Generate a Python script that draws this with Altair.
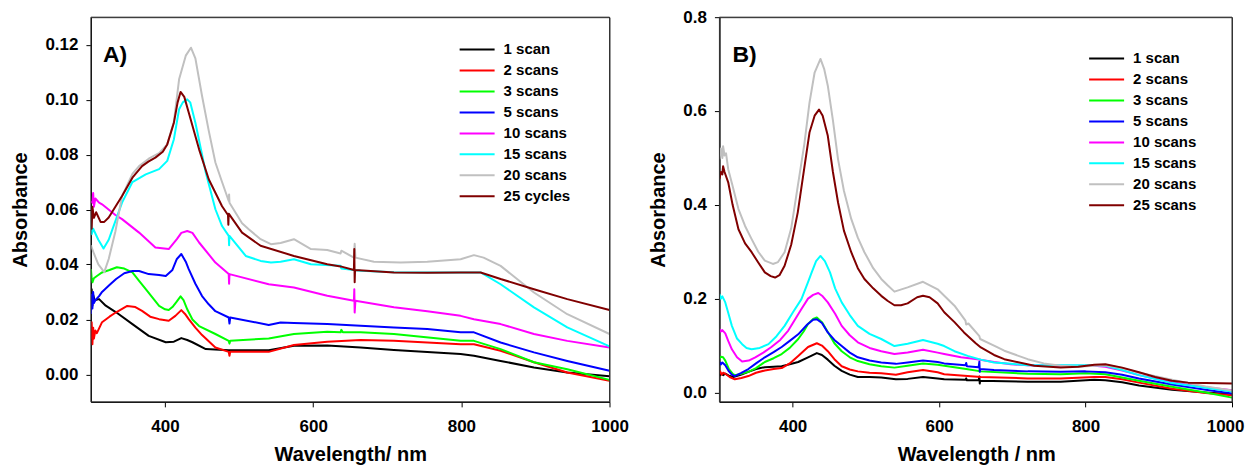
import altair as alt
import pandas as pd

FONT = "Liberation Sans"

# ---------------- legend labels & colours ----------------
labels_A = ["1 scan", "2 scans", "3 scans", "5 scans", "10 scans", "15 scans", "20 scans", "25 cycles"]
labels_B = ["1 scan", "2 scans", "3 scans", "5 scans", "10 scans", "15 scans", "20 scans", "25 scans"]
colors = ["#000000", "#ff0000", "#00ff00", "#0000ff", "#ff00ff", "#00ffff", "#c0c0c0", "#800000"]

# ---------------- panel A ----------------
A1_wl = [300, 301, 302, 303, 305, 311, 320, 334, 356, 378, 401, 412, 422, 430, 437, 455, 486, 540, 574, 619, 664, 709, 799, 817, 853, 898, 943, 1000]
A1_ab = [0.027, 0.031, 0.025, 0.029, 0.027, 0.0274, 0.025, 0.0226, 0.0183, 0.014, 0.0117, 0.0119, 0.0132, 0.0125, 0.0117, 0.0092, 0.0088, 0.0088, 0.0104, 0.0105, 0.0098, 0.0089, 0.0074, 0.0068, 0.0049, 0.0025, 0.0007, -0.0007]

A2_wl = [300, 301, 302, 303, 304, 306, 308, 315, 325, 334, 349, 360, 369, 380, 392, 405, 414, 422, 427, 432, 441, 450, 468, 486, 487, 488, 540, 574, 619, 664, 709, 799, 817, 853, 898, 943, 1000]
A2_ab = [0.013, 0.019, 0.011, 0.017, 0.013, 0.016, 0.015, 0.019, 0.021, 0.0226, 0.0249, 0.0245, 0.0231, 0.021, 0.0201, 0.0195, 0.0213, 0.0234, 0.022, 0.0201, 0.017, 0.0143, 0.0098, 0.0082, 0.0068, 0.0082, 0.0082, 0.0107, 0.0119, 0.0125, 0.0122, 0.011, 0.011, 0.0086, 0.0044, 0.0007, -0.0023]

A3_wl = [300, 301, 302, 304, 309, 315, 325, 335, 345, 356, 365, 374, 392, 400, 405, 410, 415, 421, 425, 430, 437, 446, 468, 486, 487, 488, 540, 574, 619, 637, 638, 640, 664, 709, 799, 817, 853, 898, 943, 1000]
A3_ab = [0.0383, 0.035, 0.0335, 0.035, 0.036, 0.0371, 0.038, 0.039, 0.0385, 0.0371, 0.034, 0.031, 0.0249, 0.0237, 0.0234, 0.0245, 0.0262, 0.0284, 0.027, 0.0237, 0.020, 0.0176, 0.0147, 0.0122, 0.0112, 0.0122, 0.0131, 0.0147, 0.0155, 0.0153, 0.0162, 0.0153, 0.0153, 0.0147, 0.0122, 0.0122, 0.0092, 0.0044, 0.0019, -0.002]

A5_wl = [300, 301, 302, 303, 304, 306, 311, 315, 325, 334, 345, 356, 365, 378, 392, 401, 410, 416, 422, 428, 432, 441, 450, 459, 468, 486, 487, 488, 540, 556, 574, 619, 709, 754, 799, 817, 853, 898, 943, 1000]
A5_ab = [0.022, 0.029, 0.024, 0.030, 0.026, 0.027, 0.0285, 0.030, 0.0325, 0.0347, 0.0368, 0.0376, 0.0376, 0.0365, 0.0362, 0.0358, 0.038, 0.042, 0.0438, 0.041, 0.0383, 0.033, 0.0285, 0.0255, 0.023, 0.0207, 0.0185, 0.0207, 0.018, 0.0189, 0.0187, 0.0183, 0.0171, 0.0165, 0.0153, 0.0153, 0.0116, 0.008, 0.0049, 0.0013]

A10_wl = [300, 302, 303, 304, 306, 311, 315, 333, 342, 365, 387, 405, 416, 422, 430, 437, 446, 468, 486, 486.5, 487, 540, 574, 619, 655, 655.5, 656, 657, 709, 754, 799, 817, 853, 898, 943, 1000]
A10_ab = [0.063, 0.0625, 0.066, 0.061, 0.064, 0.0625, 0.0619, 0.058, 0.0565, 0.0516, 0.0462, 0.0456, 0.0492, 0.0515, 0.0522, 0.0515, 0.048, 0.0407, 0.0365, 0.033, 0.0365, 0.0328, 0.0316, 0.0286, 0.0268, 0.031, 0.0225, 0.0268, 0.0244, 0.023, 0.0213, 0.0201, 0.0183, 0.0147, 0.0122, 0.0098]

A15_wl = [300, 301, 303, 310, 317, 324, 329, 342, 356, 374, 392, 403, 412, 419, 424, 430, 434, 441, 455, 468, 477, 486, 486.5, 487, 509, 529, 543, 556, 574, 597, 637, 638, 664, 709, 754, 799, 826, 853, 898, 943, 1000]
A15_ab = [0.056, 0.051, 0.053, 0.049, 0.0458, 0.049, 0.0528, 0.0625, 0.070, 0.0728, 0.0747, 0.0777, 0.0856, 0.0965, 0.099, 0.1001, 0.099, 0.0916, 0.0735, 0.0601, 0.054, 0.0504, 0.047, 0.0504, 0.0431, 0.0413, 0.0407, 0.041, 0.0419, 0.0401, 0.0395, 0.0385, 0.0377, 0.0372, 0.0371, 0.0371, 0.0371, 0.0328, 0.0244, 0.0171, 0.0102]

A20_wl = [300, 304, 310, 318, 324, 333, 342, 356, 365, 378, 392, 403, 412, 419, 428, 435, 441, 450, 459, 468, 477, 486, 486.5, 487, 504, 513, 529, 543, 556, 574, 597, 619, 637, 638, 655, 656, 657, 682, 718, 754, 799, 817, 830, 853, 898, 943, 1000]
A20_ab = [0.047, 0.044, 0.040, 0.0372, 0.042, 0.052, 0.0649, 0.073, 0.0758, 0.0785, 0.0805, 0.0837, 0.092, 0.1074, 0.116, 0.1189, 0.115, 0.1013, 0.0887, 0.0771, 0.070, 0.0631, 0.0655, 0.0625, 0.055, 0.0528, 0.0492, 0.0474, 0.0478, 0.0492, 0.0456, 0.0453, 0.044, 0.045, 0.0425, 0.0475, 0.0425, 0.041, 0.0407, 0.041, 0.0419, 0.0434, 0.0425, 0.0395, 0.0298, 0.0219, 0.0147]

A25_wl = [300, 301, 302, 304, 307, 313, 318, 324, 333, 342, 356, 369, 378, 387, 397, 403, 412, 417, 421, 426, 432, 446, 459, 477, 485, 485.5, 486, 504, 529, 574, 619, 637, 655, 655.5, 656, 656.5, 709, 754, 799, 826, 853, 898, 943, 1000]
A25_ab = [0.060, 0.053, 0.061, 0.057, 0.059, 0.0555, 0.0555, 0.0571, 0.061, 0.0649, 0.0716, 0.0758, 0.0775, 0.0789, 0.081, 0.0837, 0.0916, 0.099, 0.1028, 0.101, 0.0953, 0.0819, 0.071, 0.0612, 0.058, 0.0545, 0.0585, 0.0516, 0.0468, 0.0431, 0.0401, 0.0393, 0.038, 0.0456, 0.0335, 0.038, 0.0371, 0.037, 0.0371, 0.0371, 0.0347, 0.031, 0.0274, 0.0234]

# ---------------- panel B ----------------
B1_wl = [300, 301, 303, 305, 308, 313, 319, 330, 339.5, 350, 362, 374, 385, 396, 407.6, 421, 433, 440, 448, 457, 467, 478, 489, 505, 521, 541, 557, 578, 598, 607, 636, 637, 638, 654, 655, 655.5, 656, 721, 766, 812, 827, 850, 873, 918, 964, 1000]
B1_ab = [0.035, 0.038, 0.04, 0.037, 0.04, 0.036, 0.033, 0.038, 0.044, 0.05, 0.054, 0.055, 0.056, 0.06, 0.065, 0.075, 0.084, 0.08, 0.07, 0.057, 0.046, 0.038, 0.033, 0.033, 0.032, 0.028, 0.029, 0.033, 0.03, 0.028, 0.027, 0.03, 0.026, 0.026, 0.034, 0.019, 0.025, 0.023, 0.023, 0.027, 0.026, 0.022, 0.015, 0.006, 0.0, -0.004]

B2_wl = [300, 301, 303, 305, 308, 314, 321, 330, 339.5, 350, 362, 374, 385, 396, 407.6, 421, 433, 440, 448, 457, 467, 478, 489, 505, 521, 541, 557, 578, 598, 607, 657, 721, 766, 812, 827, 850, 873, 918, 964, 1000]
B2_ab = [0.04, 0.045, 0.038, 0.042, 0.04, 0.033, 0.028, 0.031, 0.035, 0.042, 0.047, 0.05, 0.052, 0.062, 0.078, 0.097, 0.105, 0.1, 0.088, 0.071, 0.056, 0.049, 0.045, 0.042, 0.041, 0.038, 0.043, 0.048, 0.043, 0.039, 0.033, 0.03, 0.03, 0.033, 0.033, 0.028, 0.021, 0.008, -0.001, -0.006]

B3_wl = [300, 302, 305, 308, 313, 318, 321, 330, 339.5, 350, 362, 374, 385, 396, 407.6, 415, 421, 428, 433, 440, 448, 457, 467, 478, 489, 505, 521, 539, 557, 578, 598, 607, 637, 657, 721, 766, 800, 827, 850, 873, 918, 964, 1000]
B3_ab = [0.072, 0.076, 0.075, 0.068, 0.05, 0.04, 0.037, 0.04, 0.044, 0.052, 0.065, 0.073, 0.082, 0.095, 0.114, 0.13, 0.146, 0.157, 0.16, 0.15, 0.129, 0.105, 0.088, 0.075, 0.067, 0.06, 0.056, 0.053, 0.057, 0.062, 0.059, 0.057, 0.05, 0.045, 0.04, 0.039, 0.041, 0.039, 0.032, 0.025, 0.012, 0.0, -0.011]

B5_wl = [300, 302, 304, 308, 313, 317, 321, 330, 339.5, 350, 362, 374, 385, 396, 407.6, 420, 428, 433, 440, 448, 457, 467, 478, 489, 505, 521, 541, 557, 578, 598, 607, 636, 637, 638, 654, 655, 655.5, 656, 675, 721, 766, 800, 827, 850, 873, 918, 964, 1000]
B5_ab = [0.065, 0.06, 0.064, 0.058, 0.045, 0.038, 0.035, 0.042, 0.05, 0.062, 0.075, 0.086, 0.097, 0.11, 0.124, 0.145, 0.155, 0.156, 0.148, 0.128, 0.112, 0.099, 0.085, 0.075, 0.068, 0.064, 0.061, 0.064, 0.068, 0.065, 0.062, 0.058, 0.063, 0.056, 0.054, 0.066, 0.044, 0.05, 0.048, 0.045, 0.044, 0.045, 0.043, 0.038, 0.03, 0.017, 0.006, -0.002]

B10_wl = [300, 302, 304, 308, 312, 317, 324, 331, 340, 349, 360, 371, 383, 394, 403, 412, 421, 428, 435, 441, 448, 458, 467, 478, 489, 505, 521, 539, 557, 578, 598, 607, 630, 652, 675, 698, 721, 766, 812, 827, 850, 873, 918, 964, 1000]
B10_ab = [0.135, 0.13, 0.133, 0.126, 0.11, 0.092, 0.075, 0.066, 0.068, 0.075, 0.085, 0.097, 0.112, 0.132, 0.155, 0.178, 0.2, 0.208, 0.212, 0.205, 0.192, 0.168, 0.142, 0.122, 0.107, 0.095, 0.088, 0.082, 0.085, 0.091, 0.085, 0.082, 0.075, 0.071, 0.065, 0.06, 0.058, 0.057, 0.057, 0.055, 0.047, 0.037, 0.022, 0.011, 0.005]

B15_wl = [300, 302, 304, 308, 312, 317, 324, 331, 337, 344, 355, 367, 378, 389, 400, 412, 421, 426, 432, 438, 444, 451, 458, 467, 478, 489, 505, 521, 539, 557, 578, 598, 607, 621, 639, 657, 675, 698, 721, 766, 812, 827, 850, 873, 918, 964, 1000]
B15_ab = [0.21, 0.2, 0.205, 0.192, 0.17, 0.142, 0.115, 0.103, 0.095, 0.092, 0.095, 0.103, 0.12, 0.142, 0.17, 0.199, 0.235, 0.256, 0.28, 0.291, 0.28, 0.256, 0.222, 0.192, 0.165, 0.142, 0.125, 0.114, 0.099, 0.104, 0.112, 0.104, 0.099, 0.088, 0.078, 0.07, 0.064, 0.061, 0.058, 0.058, 0.058, 0.057, 0.048, 0.037, 0.02, 0.01, 0.002]

B20_wl = [300, 302, 304, 305, 307, 309, 312, 318, 326, 335, 344, 353, 362, 373, 380, 389, 398, 407, 416, 423, 430, 438, 443, 448, 455, 462, 470, 480, 489, 498, 510, 521, 530, 539, 557, 578, 598, 621, 636, 637, 640, 655, 656, 675, 689, 721, 743, 766, 790, 812, 827, 850, 873, 918, 964, 1000]
B20_ab = [0.497, 0.52, 0.50, 0.525, 0.505, 0.51, 0.476, 0.44, 0.391, 0.355, 0.327, 0.30, 0.281, 0.274, 0.278, 0.299, 0.35, 0.44, 0.53, 0.618, 0.682, 0.711, 0.69, 0.654, 0.58, 0.497, 0.43, 0.37, 0.33, 0.299, 0.265, 0.242, 0.228, 0.215, 0.224, 0.236, 0.22, 0.185, 0.153, 0.145, 0.147, 0.12, 0.114, 0.1, 0.089, 0.071, 0.062, 0.057, 0.055, 0.057, 0.058, 0.052, 0.042, 0.027, 0.013, 0.004]

B25_wl = [300, 302, 304, 305, 307, 312, 318, 326, 335, 344, 353, 362, 370, 376, 382, 389, 398, 407, 416, 423, 430, 436, 441, 448, 455, 462, 470, 480, 489, 498, 510, 521, 530, 539, 548, 557, 570, 578, 587, 598, 607, 621, 634, 650, 657, 675, 689, 730, 766, 790, 812, 827, 850, 873, 895, 918, 940, 964, 1000]
B25_ab = [0.455, 0.47, 0.465, 0.482, 0.47, 0.448, 0.40, 0.348, 0.318, 0.299, 0.277, 0.256, 0.248, 0.245, 0.25, 0.27, 0.315, 0.384, 0.48, 0.554, 0.59, 0.603, 0.59, 0.547, 0.47, 0.405, 0.345, 0.299, 0.265, 0.242, 0.222, 0.206, 0.195, 0.186, 0.186, 0.19, 0.203, 0.206, 0.203, 0.19, 0.171, 0.15, 0.128, 0.105, 0.096, 0.08, 0.071, 0.057, 0.053, 0.055, 0.059, 0.06, 0.053, 0.043, 0.033, 0.025, 0.021, 0.02, 0.019]

A_series = [(A1_wl, A1_ab), (A2_wl, A2_ab), (A3_wl, A3_ab), (A5_wl, A5_ab),
            (A10_wl, A10_ab), (A15_wl, A15_ab), (A20_wl, A20_ab), (A25_wl, A25_ab)]
B_series = [(B1_wl, B1_ab), (B2_wl, B2_ab), (B3_wl, B3_ab), (B5_wl, B5_ab),
            (B10_wl, B10_ab), (B15_wl, B15_ab), (B20_wl, B20_ab), (B25_wl, B25_ab)]


def build(series, labels):
    rows = []
    for k, ((wl, ab), lab) in enumerate(zip(series, labels)):
        for i, (w, a) in enumerate(zip(wl, ab)):
            rows.append({"wl": w, "abs": a, "series": lab, "k": k, "i": i})
    return pd.DataFrame(rows)


dfA = build(A_series, labels_A)
dfB = build(B_series, labels_B)

H = 385
axis_style = dict(
    domainColor="black", domainWidth=1, tickColor="black", tickSize=5, tickWidth=1,
    labelFont=FONT, labelFontWeight="bold", labelFontSize=17, labelColor="black",
    titleFont=FONT, titleFontWeight="bold", titleFontSize=20, titleColor="black",
    grid=False, labelOverlap=False,
)


def legend(lx, ly):
    return alt.Legend(
        title=None, orient="none", legendX=lx, legendY=ly,
        symbolType="stroke", symbolSize=1225, symbolStrokeWidth=2,
        labelFont=FONT, labelFontWeight="bold", labelFontSize=15, labelColor="black",
        labelOffset=8, clipHeight=21.0, rowPadding=0, padding=0,
    )


def panel(df, labels, width, ydom, yvals, yfmt, xtitle, title_x, lx, ly, tag, tag_x, flush):
    xflush = dict(labelFlush=True, labelFlushOffset=12) if flush else dict(labelFlush=False)
    lines = alt.Chart(df).mark_line(strokeWidth=2, clip=True, strokeJoin="round").encode(
        x=alt.X("wl:Q", scale=alt.Scale(domain=[300, 1000], nice=False, zero=False),
                axis=alt.Axis(values=[400, 600, 800, 1000], format="d", title=xtitle,
                              labelPadding=12, titlePadding=10, titleX=title_x,
                              **xflush, **axis_style)),
        y=alt.Y("abs:Q", scale=alt.Scale(domain=ydom, nice=False, zero=False),
                axis=alt.Axis(values=yvals, format=yfmt, title="Absorbance",
                              labelPadding=8, titlePadding=14, labelFlush=False, **axis_style)),
        color=alt.Color("series:N", sort=labels,
                        scale=alt.Scale(domain=labels, range=colors), legend=legend(lx, ly)),
        detail="k:N",
        order="i:Q",
    )
    # plot frame (top and right borders of the box)
    frame = alt.Chart(pd.DataFrame({"f": [0]})).mark_rect(
        fillOpacity=0, stroke="#333333", strokeWidth=1
    ).encode(x=alt.value(0), x2=alt.value(width), y=alt.value(0), y2=alt.value(H))
    txt = alt.Chart(pd.DataFrame({"t": [tag]})).mark_text(
        font=FONT, fontWeight="bold", fontSize=23, align="left", baseline="alphabetic", color="black"
    ).encode(text="t:N", x=alt.value(tag_x), y=alt.value(45))
    return alt.layer(lines, frame, txt).properties(width=width, height=H)


panelA = panel(dfA, labels_A, 519, [-0.01, 0.13], [0, 0.02, 0.04, 0.06, 0.08, 0.10, 0.12], ".2f",
               "Wavelength/ nm", 259.5, 368, 21.8, "A)", 12, False)
panelB = panel(dfB, labels_B, 513, [-0.02, 0.8], [0, 0.2, 0.4, 0.6, 0.8], ".1f",
               "Wavelength / nm", 257, 369, 30.8, "B)", 13, True)

chart = alt.hconcat(panelA, panelB, spacing=18).resolve_scale(color="independent").properties(
    padding={"left": 2, "top": -1, "right": 0, "bottom": 0},
    background="white",
).configure_view(stroke="#333333", strokeWidth=1)

chart.save("out.html", embed_options={"renderer": "svg", "actions": False})
